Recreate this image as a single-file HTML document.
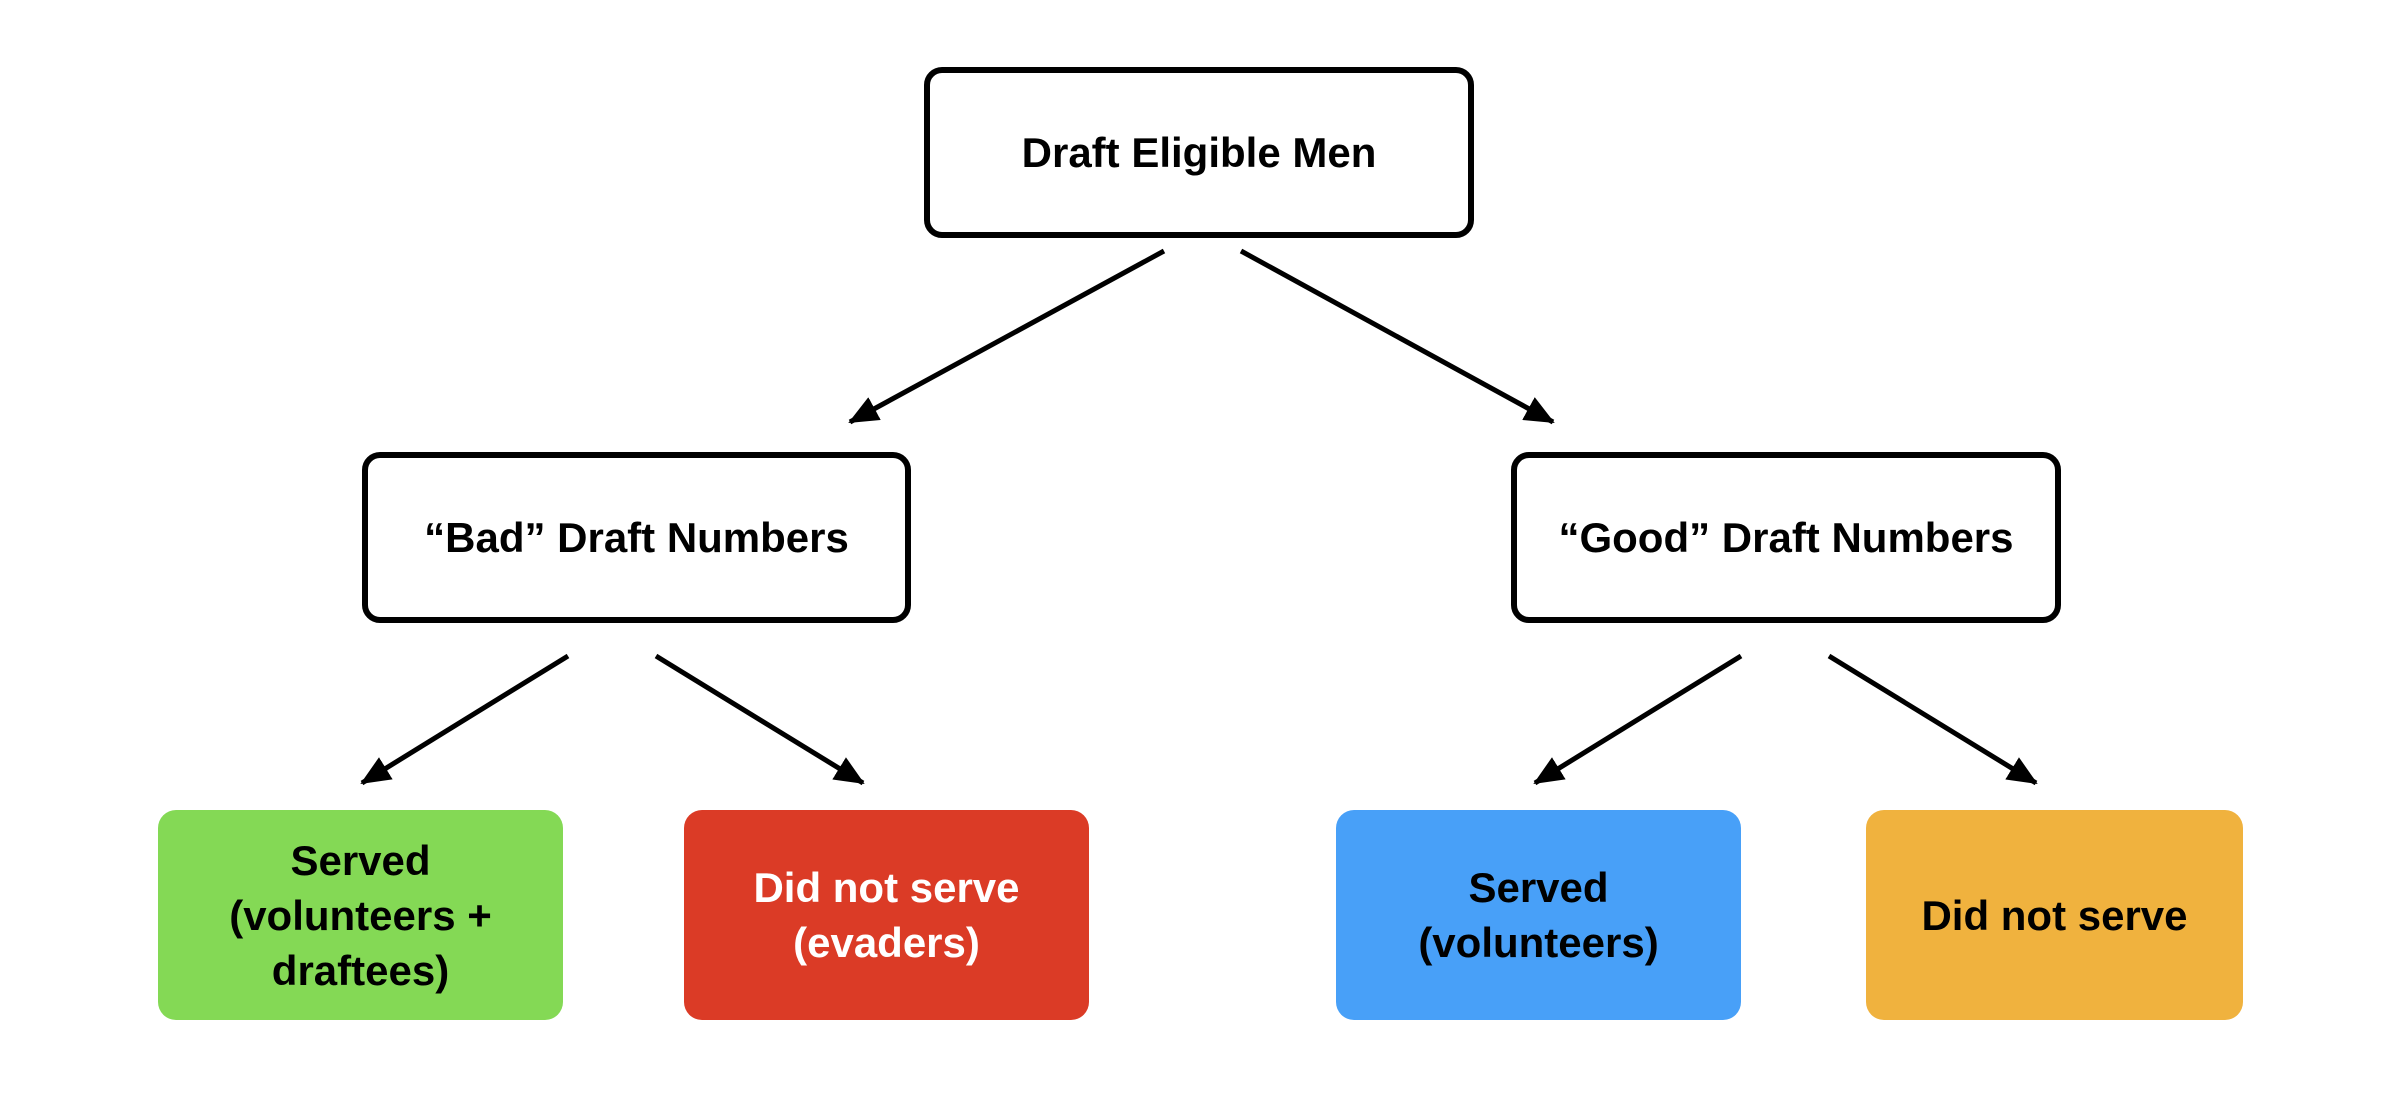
<!DOCTYPE html>
<html><head><style>
body{margin:0;width:2388px;height:1110px;background:#fff;position:relative;overflow:hidden;font-family:"Liberation Sans",sans-serif;font-weight:bold;}
.b{position:absolute;box-sizing:border-box;display:flex;align-items:center;justify-content:center;text-align:center;font-size:42px;line-height:55px;border-radius:18px;color:#000;}
.w{border:6px solid #000;background:#fff;}
</style></head><body>
<svg width="2388" height="1110" style="position:absolute;left:0;top:0">
<defs>
<marker id="m" markerWidth="30" markerHeight="26" refX="28" refY="13" orient="auto" markerUnits="userSpaceOnUse"><path d="M0,0 L30,13 L0,26 Z" fill="#000"/></marker></defs>
<g stroke="#000" stroke-width="5" marker-end="url(#m)">
<line x1="1164" y1="251" x2="850" y2="422"/>
<line x1="1241" y1="251" x2="1553" y2="422"/>
<line x1="568" y1="656" x2="362" y2="783"/>
<line x1="656" y1="656" x2="863" y2="783"/>
<line x1="1741" y1="656" x2="1535" y2="783"/>
<line x1="1829" y1="656" x2="2036" y2="783"/>
</g></svg>
<div class="b w" style="left:924px;top:67px;width:550px;height:171px">Draft Eligible Men</div>
<div class="b w" style="left:362px;top:452px;width:549px;height:171px">“Bad” Draft Numbers</div>
<div class="b w" style="left:1511px;top:452px;width:550px;height:171px">“Good” Draft Numbers</div>
<div class="b" style="left:158px;top:810px;width:405px;height:210px;background:#84D955">Served<br>(volunteers +<br>draftees)</div>
<div class="b" style="left:684px;top:810px;width:405px;height:210px;background:#DB3B26;color:#fff">Did not serve<br>(evaders)</div>
<div class="b" style="left:1336px;top:810px;width:405px;height:210px;background:#48A0F8">Served<br>(volunteers)</div>
<div class="b" style="left:1866px;top:810px;width:377px;height:210px;background:#F0B23E">Did not serve</div>
</body></html>
